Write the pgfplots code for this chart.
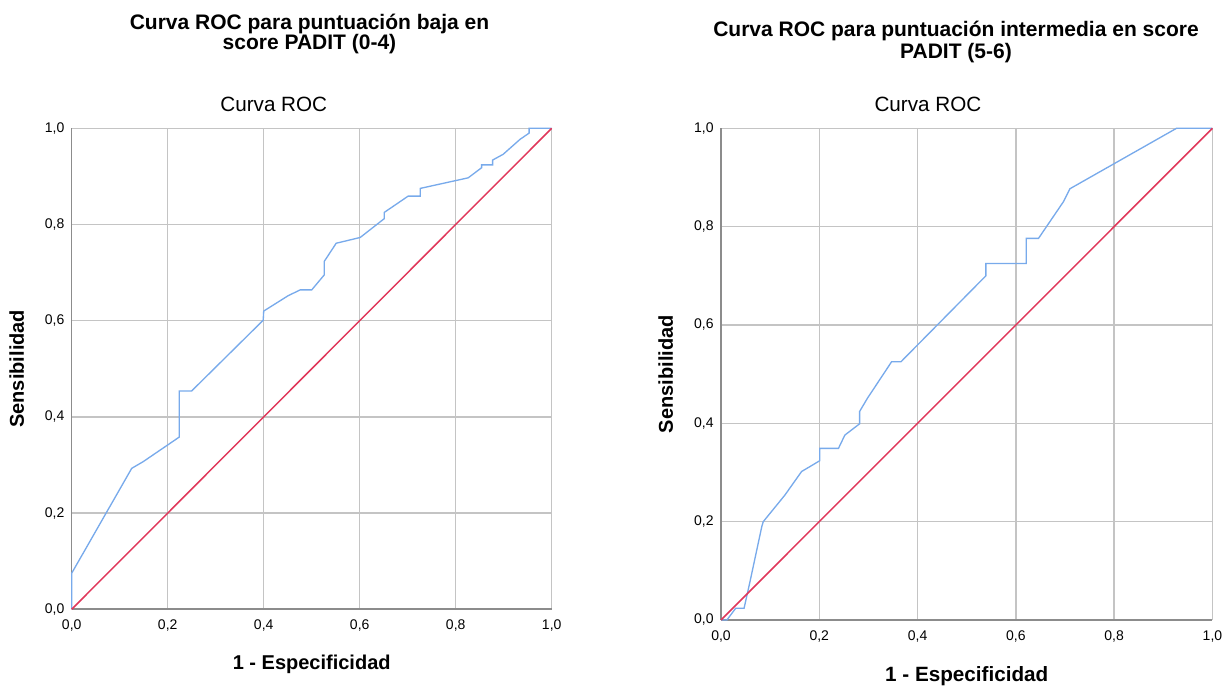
\documentclass[border=0pt]{standalone}
\usepackage{fontspec}
\setmainfont{Liberation Sans}
\usepackage{pgfplots}
\pgfplotsset{compat=1.18}

\definecolor{rocblue}{HTML}{78AAEB}
\definecolor{rocred}{HTML}{E0375A}
\definecolor{gridgray}{HTML}{C4C4C4}
\definecolor{axgray}{HTML}{8C8C8C}

% 1 px of the reference = 0.75pt
\pgfplotsset{
  rocaxis/.style={
    scale only axis,
    anchor=south west,
    xmin=0, xmax=1, ymin=0, ymax=1,
    xtick={0,0.2,0.4,0.6,0.8,1},
    ytick={0,0.2,0.4,0.6,0.8,1},
    grid=major,
    major grid style={gridgray, line width=1.1pt},
    axis x line*=bottom,
    axis y line*=left,
    axis line style={axgray, line width=1.2pt, -},
    major tick length=0pt,
    clip=false,
    tick label style={font=\fontsize{10.5}{12}\selectfont},
    xticklabel style={yshift=-4.5pt},
    yticklabel style={xshift=-2pt},
    /pgf/number format/.cd, use comma, fixed, fixed zerofill, precision=1, assume math mode=true,
    /pgfplots/.cd,
    title={Curva ROC},
    title style={font=\fontsize{15.5}{18}\selectfont, anchor=base,
      at={(axis description cs:0.421,1)}, yshift=6.75pt},
    xlabel={1 - Especificidad},
    ylabel={Sensibilidad},
    xlabel style={font=\fontsize{15}{18}\selectfont\bfseries, anchor=base,
      at={(axis description cs:0.5,0)}, yshift=-45pt},
  },
  rocline/.style={rocblue, line width=1pt},
  refline/.style={rocred, line width=1.1pt},
}

\begin{document}
\begin{tikzpicture}
\path (0,0) rectangle (924pt,513.75pt);

\node[anchor=base, font=\fontsize{15.75}{19}\selectfont\bfseries] at (232.1pt,491.8pt) {Curva ROC para puntuación baja en};
\node[anchor=base, font=\fontsize{15.75}{19}\selectfont\bfseries] at (232.1pt,476.3pt) {score PADIT (0-4)};
\node[anchor=base, font=\fontsize{15.75}{19}\selectfont\bfseries] at (717pt,486pt) {Curva ROC para puntuación intermedia en score};
\node[anchor=base, font=\fontsize{15.75}{19}\selectfont\bfseries] at (717pt,469.5pt) {PADIT (5-6)};

% left: puntuacion baja (0-4)
\begin{axis}[rocaxis,
  at={(53.775pt,56.775pt)}, width=360pt, height=360.75pt,
  ylabel style={font=\fontsize{15}{18}\selectfont\bfseries, anchor=base,
    at={(axis description cs:-0.0994,0.5)}},
]
\addplot[rocline] coordinates {
  (0,0) (0,0.075) (0.125,0.293) (0.149,0.307) (0.224,0.358) (0.224,0.454)
  (0.25,0.454) (0.399,0.601) (0.40,0.62) (0.451,0.652) (0.476,0.664)
  (0.50,0.664) (0.526,0.695) (0.526,0.723) (0.551,0.761) (0.601,0.773)
  (0.651,0.812) (0.651,0.825) (0.701,0.859) (0.726,0.859) (0.726,0.875)
  (0.826,0.897) (0.854,0.918) (0.854,0.924) (0.877,0.924) (0.877,0.934)
  (0.899,0.946) (0.934,0.977) (0.953,0.99) (0.953,1.0) (1,1)
};
\addplot[refline] coordinates {(0,0) (1,1)};
\end{axis}

% right: puntuacion intermedia (5-6)
\begin{axis}[rocaxis,
  at={(540.75pt,48.75pt)}, width=368.6pt, height=368.8pt,
  xlabel style={yshift=-1.5pt, font=\fontsize{15.5}{18}\selectfont\bfseries},
  ylabel style={font=\fontsize{15}{18}\selectfont\bfseries, anchor=base,
    at={(axis description cs:-0.0977,0.5)}},
]
\addplot[rocline] coordinates {
  (0,0) (0.012,0) (0.030,0.024) (0.047,0.024) (0.059,0.078) (0.083,0.19)
  (0.086,0.2) (0.130,0.254) (0.164,0.302) (0.181,0.312) (0.201,0.324)
  (0.201,0.349) (0.239,0.349) (0.252,0.376) (0.282,0.399) (0.282,0.424)
  (0.298,0.451) (0.347,0.525) (0.366,0.525) (0.539,0.70) (0.539,0.725)
  (0.621,0.725) (0.621,0.776) (0.646,0.776) (0.697,0.851) (0.710,0.877)
  (0.927,1.0) (1,1)
};
\addplot[refline] coordinates {(0,0) (1,1)};
\end{axis}
\end{tikzpicture}
\end{document}
